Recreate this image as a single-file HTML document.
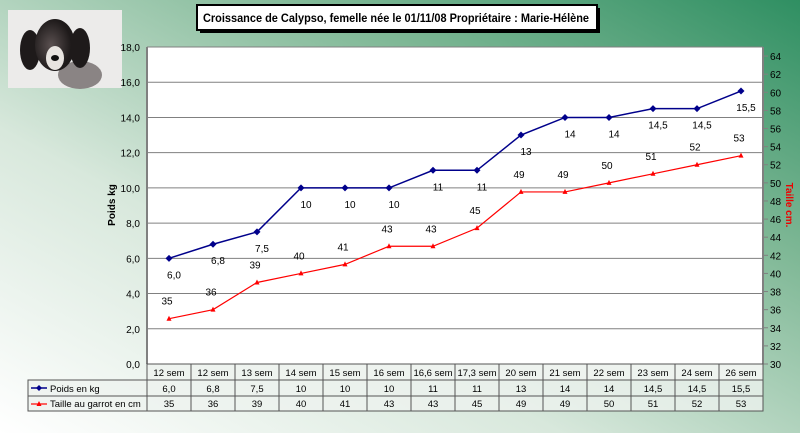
<!DOCTYPE html>
<html><head><meta charset="utf-8"><style>
html,body{margin:0;padding:0;width:800px;height:433px;overflow:hidden;font-family:"Liberation Sans",sans-serif}
</style></head><body>
<svg id="s" width="800" height="433" xmlns="http://www.w3.org/2000/svg" font-family="Liberation Sans, sans-serif">
<defs>
<linearGradient id="bg" x1="0" y1="1" x2="1" y2="0">
<stop offset="0" stop-color="#ffffff"/>
<stop offset="0.35" stop-color="#d8e8dc"/>
<stop offset="0.7" stop-color="#7fb896"/>
<stop offset="1" stop-color="#2f8f62"/>
</linearGradient>
<radialGradient id="dog" cx="0.4" cy="0.5" r="0.5">
<stop offset="0" stop-color="#5a5050"/>
<stop offset="1" stop-color="#1e1a1a"/>
</radialGradient>
</defs>
<rect width="800" height="433" fill="url(#bg)"/>
<rect x="8" y="10" width="114" height="78" fill="#ecebea"/>
<ellipse cx="80" cy="75" rx="22" ry="14" fill="#8a8484"/>
<ellipse cx="30" cy="50" rx="10" ry="20" fill="#1e1a1a"/>
<ellipse cx="80" cy="48" rx="10" ry="20" fill="#1e1a1a"/>
<ellipse cx="55" cy="45" rx="20" ry="26" fill="url(#dog)"/>
<ellipse cx="55" cy="58" rx="9" ry="12" fill="#e8e4e0"/>
<ellipse cx="55" cy="58" rx="4" ry="3" fill="#111"/>
<rect x="200" y="8" width="400" height="25" fill="#000"/>
<rect x="197" y="5" width="400" height="25" fill="#fff" stroke="#000" stroke-width="2"/>
<text x="203" y="22" font-size="11.5" font-weight="bold" textLength="386" lengthAdjust="spacingAndGlyphs">Croissance de Calypso, femelle née le 01/11/08  Propriétaire : Marie-Hélène</text>
<rect x="147" y="47" width="616" height="317" fill="#fff"/>
<g id="g"></g>
<text transform="translate(115,205) rotate(-90)" font-size="10" font-weight="bold" text-anchor="middle">Poids kg</text>
<text transform="translate(786,205) rotate(90)" font-size="10" font-weight="bold" fill="#e00" text-anchor="middle">Taille cm.</text>
</svg>
<script>
var g=document.getElementById('g'),h='';
var L=147,R=763,T=47,B=364,W=44;
var cats=["12 sem","12 sem","13 sem","14 sem","15 sem","16 sem","16,6 sem","17,3 sem","20 sem","21 sem","22 sem","23 sem","24 sem","26 sem"];
var p=[6,6.8,7.5,10,10,10,11,11,13,14,14,14.5,14.5,15.5];
var pl=["6,0","6,8","7,5","10","10","10","11","11","13","14","14","14,5","14,5","15,5"];
var t=[35,36,39,40,41,43,43,45,49,49,50,51,52,53];
function yl(v){return B-v*(317/18);}
function yr(v){return B-(v-30)*(317/35);}
for(var i=1;i<=9;i++){var y=yl(i*2);h+='<line x1="'+L+'" y1="'+y+'" x2="'+R+'" y2="'+y+'" stroke="#808080" stroke-width="1"/>';
h+='<text x="140" y="'+(y+4)+'" font-size="10" text-anchor="end">'+(i*2).toFixed(1).replace('.',',')+'</text>';}
h+='<text x="140" y="'+(B+4)+'" font-size="10" text-anchor="end">0,0</text>';
for(var v=30;v<=64;v+=2){var y=yr(v);h+='<line x1="'+R+'" y1="'+y+'" x2="'+(R+5)+'" y2="'+y+'" stroke="#808080"/>';
h+='<text x="770" y="'+(y+4)+'" font-size="10">'+v+'</text>';}
h+='<line x1="'+L+'" y1="'+T+'" x2="'+L+'" y2="'+B+'" stroke="#808080" stroke-width="2"/>';
h+='<line x1="'+R+'" y1="'+T+'" x2="'+R+'" y2="'+B+'" stroke="#808080" stroke-width="2"/>';
var pb='',pr='';
for(var i=0;i<14;i++){var x=L+W*(i+.5);pb+=x+','+yl(p[i])+' ';pr+=x+','+yr(t[i])+' ';}
h+='<polyline points="'+pb+'" fill="none" stroke="#00008b" stroke-width="1.5"/>';
h+='<polyline points="'+pr+'" fill="none" stroke="#ff0000" stroke-width="1.2"/>';
for(var i=0;i<14;i++){var x=L+W*(i+.5),y=yl(p[i]),y2=yr(t[i]);
h+='<polygon points="'+x+','+(y-3.5)+' '+(x+3.5)+','+y+' '+x+','+(y+3.5)+' '+(x-3.5)+','+y+'" fill="#00008b"/>';
h+='<polygon points="'+x+','+(y2-3)+' '+(x+2.5)+','+(y2+2)+' '+(x-2.5)+','+(y2+2)+'" fill="#ff0000"/>';
h+='<text x="'+(x+5)+'" y="'+(y+20)+'" font-size="10" text-anchor="middle">'+pl[i]+'</text>';
h+='<text x="'+(x-2)+'" y="'+(y2-14)+'" font-size="10" text-anchor="middle">'+t[i]+'</text>';}
var tl=28;
h+='<rect x="'+L+'" y="364" width="616" height="16" fill="#eef3ef" stroke="#555"/>';
h+='<rect x="'+tl+'" y="380" width="'+(R-tl)+'" height="31" fill="#eef3ef" fill-opacity="0.8" stroke="#555"/>';
h+='<line x1="'+tl+'" y1="396" x2="'+R+'" y2="396" stroke="#555"/>';
h+='<line x1="'+L+'" y1="364" x2="'+L+'" y2="411" stroke="#555"/>';
for(var i=0;i<14;i++){var x=L+W*i;if(i>0)h+='<line x1="'+x+'" y1="364" x2="'+x+'" y2="411" stroke="#555"/>';
var c=x+W/2;
h+='<text x="'+c+'" y="376" font-size="9.5" text-anchor="middle">'+cats[i]+'</text>';
h+='<text x="'+c+'" y="392" font-size="9.5" text-anchor="middle">'+pl[i]+'</text>';
h+='<text x="'+c+'" y="407" font-size="9.5" text-anchor="middle">'+t[i]+'</text>';}
h+='<line x1="31" y1="388" x2="47" y2="388" stroke="#00008b" stroke-width="1.5"/><polygon points="39,385 42,388 39,391 36,388" fill="#00008b"/>';
h+='<text x="50" y="392" font-size="9.5">Poids en kg</text>';
h+='<line x1="31" y1="404" x2="47" y2="404" stroke="#f00" stroke-width="1.2"/><polygon points="39,401 41.5,406 36.5,406" fill="#f00"/>';
h+='<text x="50" y="407" font-size="9.5">Taille au garrot en cm</text>';
g.innerHTML=h;
</script>
</body></html>
